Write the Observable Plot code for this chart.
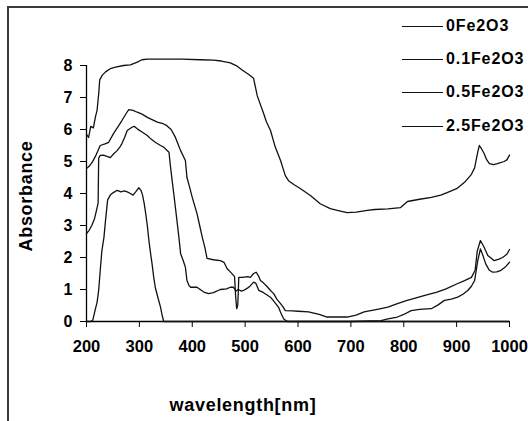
<!DOCTYPE html>
<html><head><meta charset="utf-8">
<script src="https://cdn.jsdelivr.net/npm/d3@7"></script>
<script src="https://cdn.jsdelivr.net/npm/@observablehq/plot@0.6"></script>
<style>
body{margin:0;background:#fff;}
#wrap{position:relative;width:528px;height:421px;overflow:hidden;background:#fff;font-weight:bold;color:#000;font-family:"Liberation Sans",Arial,sans-serif;}
#wrap svg{position:absolute;left:0;top:0;}
#frame{position:absolute;left:7px;top:6px;width:700px;height:700px;border-left:2px solid #3a3a3a;border-top:2px solid #3a3a3a;}
#ylab{position:absolute;left:26px;top:196px;transform:translate(-50%,-50%) rotate(-90deg);white-space:nowrap;font-size:18px;letter-spacing:0.7px;}
#xlab{position:absolute;left:243px;top:405px;transform:translate(-50%,-50%);white-space:nowrap;font-size:18px;letter-spacing:0.7px;}
.leg{position:absolute;left:402px;height:20px;display:flex;align-items:center;white-space:nowrap;font-size:16px;letter-spacing:0.9px;}
.leg span.ln{display:inline-block;width:41px;height:0;border-top:1.3px solid #111;margin-right:3px;}
</style></head>
<body>
<div id="wrap"></div>
<script>
// ---- data ----
const seriesNames = ["0Fe2O3", "0.1Fe2O3", "0.5Fe2O3", "2.5Fe2O3"];
const xTicks = [200, 300, 400, 500, 600, 700, 800, 900, 1000];
const yTicks = [0, 1, 2, 3, 4, 5, 6, 7, 8];

// lowest curve (peak ~4.1)
const wlD  = [200,208,212,214,217,220,223,226,229,233,236,240,245,250,258,265,272,277,283,288,293,299,303,306,309,312,315,318,321,324,327,330,335,340,343,346,1000];
const absD = [0,0,0.05,0.19,0.4,0.6,0.97,1.6,2.2,2.63,3.16,3.8,3.95,4.02,4.1,4.05,4.08,4.05,4.0,3.95,4.05,4.18,4.1,3.95,3.7,3.37,3.0,2.53,2.15,1.8,1.4,1.07,0.75,0.45,0.2,0,0];

// curve with peak ~6.1
const wlC  = [200,205,210,215,220,222,223,226,232,240,245,252,258,263,267,272,277,286,290,296,305,315,322,330,340,346,352,356,359,362,365,371,375,378,383,387,390,394,397,409,415,422,431,440,453,465,472,478,483,487,493,497,505,510,516,520,526,535,548,556,563,568,573,580,620,700,757,770,788,800,814,830,852,865,877,890,902,912,921,928,934,940,945,950,955,962,968,976,984,992,1000];
const absC = [2.75,2.85,3.0,3.2,3.55,3.7,5.1,5.19,5.2,5.15,5.12,5.25,5.34,5.45,5.56,5.75,5.97,6.07,6.1,6.02,5.92,5.81,5.7,5.6,5.5,5.45,5.35,5.29,4.82,4.4,4.0,3.16,2.6,2.12,1.9,1.7,1.28,1.12,1.07,1.07,1.0,0.92,0.87,0.9,1.0,1.02,1.07,1.07,0.95,1.0,0.95,0.97,1.05,1.12,1.23,1.2,0.97,0.9,0.76,0.6,0.45,0.25,0.08,0,0,0,0.03,0.08,0.14,0.22,0.34,0.38,0.4,0.52,0.66,0.7,0.76,0.85,0.97,1.1,1.28,1.9,2.27,2.05,1.8,1.6,1.54,1.55,1.6,1.7,1.85];

// curve with peak ~6.6
const wlB  = [200,205,211,218,226,235,242,251,260,267,275,280,288,296,305,315,325,334,345,352,360,368,373,378,387,390,395,400,409,414,419,424,428,440,453,460,466,472,478,480,482,484,486,487,488,495,505,510,516,521,526,529,535,541,548,554,560,567,572,576,590,600,620,640,655,675,693,710,725,750,770,788,805,820,840,863,880,901,915,928,935,939,945,952,959,966,971,980,987,995,1000];
const absB = [4.78,4.85,4.98,5.2,5.5,5.55,5.6,5.87,6.1,6.28,6.5,6.62,6.6,6.54,6.48,6.38,6.3,6.23,6.18,6.12,6.0,5.76,5.55,5.34,5.03,4.5,4.2,3.88,3.37,3.0,2.63,2.3,1.97,1.93,1.9,1.85,1.65,1.55,1.44,1.4,0.8,0.4,0.5,0.9,1.38,1.38,1.4,1.38,1.5,1.54,1.4,1.28,1.2,1.1,0.97,0.87,0.7,0.56,0.45,0.34,0.33,0.32,0.3,0.22,0.14,0.14,0.14,0.2,0.3,0.38,0.45,0.56,0.65,0.72,0.82,0.92,1.02,1.18,1.28,1.38,1.6,2.2,2.53,2.32,2.06,1.97,1.9,1.95,2.0,2.1,2.25];

// highest curve (plateau ~8.2)
const wlA  = [200,204,208,213,217,220,223,225,230,236,245,255,270,283,295,305,315,350,380,415,440,455,472,485,495,507,516,523,535,540,548,557,567,576,582,592,605,624,642,661,680,693,710,731,745,770,794,807,830,852,870,882,900,915,928,934,940,943,947,952,957,962,970,977,990,995,1000];
const absA = [5.85,5.75,6.1,6.05,6.4,6.6,7.1,7.55,7.7,7.8,7.9,7.95,8.0,8.02,8.1,8.18,8.2,8.2,8.2,8.18,8.17,8.14,8.08,7.98,7.85,7.72,7.6,7.05,6.5,6.25,5.97,5.45,5.03,4.56,4.4,4.28,4.15,3.93,3.68,3.53,3.45,3.4,3.42,3.47,3.5,3.52,3.56,3.75,3.82,3.88,3.95,4.03,4.15,4.35,4.6,4.8,5.3,5.5,5.4,5.25,5.05,4.93,4.9,4.93,5.0,5.05,5.2];

const wls = [wlD, wlC, wlB, wlA];
const abss = [absD, absC, absB, absA];
const data = [];
seriesNames.forEach((s, i) => wls[i].forEach((w, j) => data.push({series: s, wl: w, abs: abss[i][j]})));

const chart = Plot.plot({
  width: 528, height: 421,
  marginLeft: 86, marginRight: 19, marginTop: 65, marginBottom: 100,
  style: {background: "transparent", fontFamily: '"Liberation Sans", Arial, sans-serif', fontWeight: "bold", color: "#000"},
  x: {domain: [200, 1000]},
  y: {domain: [0, 8]},
  marks: [
    Plot.axisY({ticks: yTicks, tickFormat: d => String(d), tickSize: 6, tickPadding: 8, label: null, fontSize: 16, stroke: "#000", fontWeight: "bold"}),
    Plot.axisX({ticks: xTicks, tickFormat: d => String(d), tickSize: 6, tickPadding: 13, label: null, fontSize: 16.5, fontWeight: "bold", stroke: "#000"}),
    Plot.ruleX([200], {stroke: "#000", strokeWidth: 1.3}),
    Plot.ruleY([0], {stroke: "#000", strokeWidth: 1.3}),
    Plot.line(data, {x: "wl", y: "abs", z: "series", stroke: "#111", strokeWidth: 1.3, curve: "linear"})
  ]
});

const wrap = document.getElementById("wrap");
wrap.appendChild(chart);
const frame = document.createElement("div"); frame.id = "frame"; wrap.appendChild(frame);
const yl = document.createElement("div"); yl.id = "ylab"; yl.textContent = "Absorbance"; wrap.appendChild(yl);
const xl = document.createElement("div"); xl.id = "xlab"; xl.textContent = "wavelength[nm]"; wrap.appendChild(xl);
const legTops = [26, 59, 92, 126];
seriesNames.forEach((s, i) => {
  const d = document.createElement("div");
  d.className = "leg";
  d.style.top = (legTops[i] - 10) + "px";
  d.innerHTML = '<span class="ln"></span><span></span>';
  d.lastChild.textContent = s;
  wrap.appendChild(d);
});
</script>
</body></html>
